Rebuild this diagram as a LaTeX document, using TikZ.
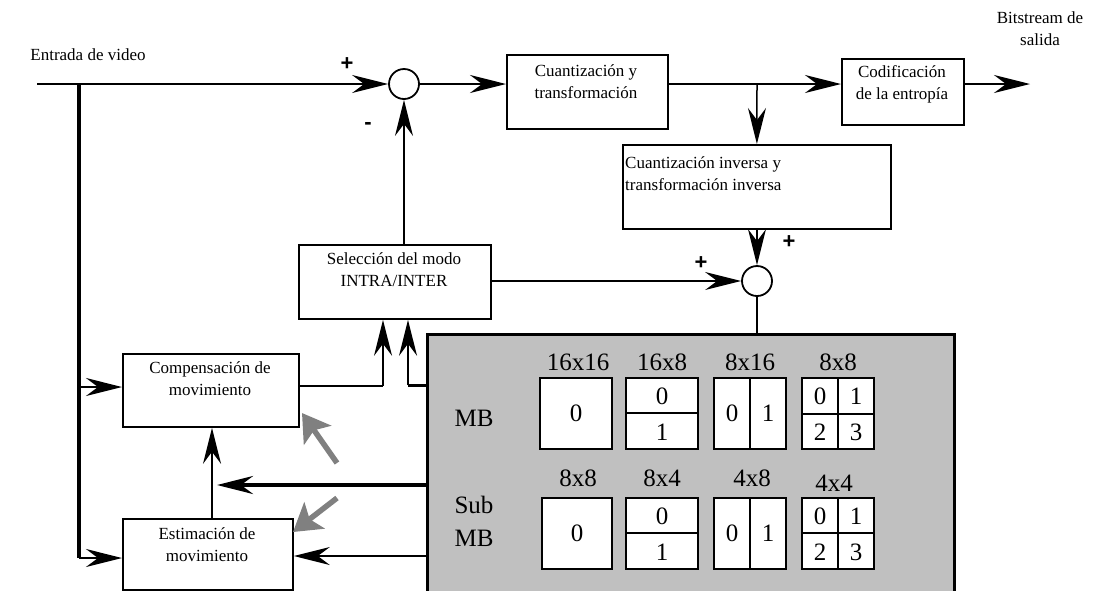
\documentclass[tikz,border=0pt]{standalone}
\usepackage{fontspec}
\setmainfont{Liberation Serif}
\newfontfamily\signfont{Liberation Sans}
\usetikzlibrary{arrows.meta,calc}
\begin{document}
\begin{tikzpicture}[x=1pt,y=-1pt,
  box/.style={draw,line width=1.8pt,anchor=north west,inner sep=0pt,fill=white},
  txt/.style={font=\fontsize{17}{22}\selectfont,inner sep=0pt,align=center},
  big/.style={font=\fontsize{25}{30}\selectfont,inner sep=0pt},
  sgn/.style={font=\signfont\bfseries\fontsize{22}{22}\selectfont,inner sep=0pt},
  sumnode/.style={draw,circle,line width=1.8pt,minimum size=30pt,inner sep=0pt,fill=white},
  ln/.style={line width=1.5pt},
  arr/.style={ln,-{Stealth[length=36pt,width=18pt,inset=12pt]}},
  part/.style={draw,fill=white,line width=1.9pt},
  garr/.style={draw=gray,line width=5.5pt,-{Stealth[length=27pt,width=33pt,inset=6pt]}}
]
\useasboundingbox (0,0) rectangle (1097,590);

% gray partition panel
\node[draw,line width=2.8pt,fill={rgb,255:red,192;green,192;blue,192},anchor=north west,minimum width=527pt,minimum height=270pt,inner sep=0pt] (panel) at (426,333) {};

% blocks
\node[box,minimum width=161pt,minimum height=74pt] (cuant) at (506,54) {};
\node[box,minimum width=122pt,minimum height=66pt] (codif) at (841,58) {};
\node[box,minimum width=268pt,minimum height=84pt] (inv) at (622,144) {};
\node[box,minimum width=192pt,minimum height=74pt] (sel) at (298,244) {};
\node[box,minimum width=176pt,minimum height=73pt] (comp) at (122,353) {};
\node[box,minimum width=170pt,minimum height=71pt] (est) at (122,518) {};

\node[sumnode] (s1) at (404,84) {};
\node[sumnode] (s2) at (757,281) {};

% texts
\node[txt] (tin) at (88,55) {Entrada de video};
\node[txt] (tcuant) at (586,82) {Cuantización y\\transformación};
\node[txt] (tcodif) at (902,84) {Codificación\\de la entropía};
\node[txt,align=left,anchor=west] (tinv) at (625,174) {Cuantización inversa y\\transformación inversa};
\node[txt] (tsel) at (394,270) {Selección del modo\\INTRA/INTER};
\node[txt] (tcomp) at (210,379) {Compensación de\\movimiento};
\node[txt] (test) at (207,545) {Estimación de\\movimiento};
\node[txt] (tout) at (1040,29) {Bitstream de\\salida};

\node[sgn] (p1) at (347,64) {+};
\node[sgn] (m1) at (368,126) {-};
\node[sgn] (p2) at (789,242) {+};
\node[sgn] (p3) at (701,263) {+};

% coordinates
\coordinate (in) at (37,84);
\coordinate (j1) at (79,84);
\coordinate (j2) at (79,387);
\coordinate (j3) at (79,558);
\coordinate (br) at (757,84);
\coordinate (out) at (1030,84);
\coordinate (c1) at (383,386);
\coordinate (g1) at (408,385);
\coordinate (g2) at (217,485);
\coordinate (e1) at (212,518);

% connectors
\draw[arr] (in) -- (s1.west);
\draw[line width=3.4pt] (j1) -- (j3);
\draw[arr] (j2) -- (comp.west |- j2);
\draw[arr] (j3) -- (est.west |- j3);
\draw[arr] (s1.east) -- (cuant.west |- s1);
\draw[arr] (cuant.east |- s1) -- (codif.west |- s1);
\draw[arr] (br) -- (inv.north);
\draw[arr] (codif.east |- s1) -- (out);
\draw[arr] (inv.south -| s2) -- (s2.north);
\draw[arr] (sel.north -| s1) -- (s1.south);
\draw[arr] (sel.east |- s2) -- (s2.west);
\draw[line width=2.6pt] (s2.south) -- (s2 |- panel.north);
\draw[ln] (comp.east |- c1) -- (c1);
\draw[arr] (c1) -- (c1 |- sel.south);
\draw[line width=3pt] (panel.west |- g1) -- (g1);
\draw[arr] (g1) -- (g1 |- sel.south);
\draw[line width=4.2pt,-{Stealth[length=36pt,width=18pt,inset=12pt]}] (panel.west |- g2) -- (g2);
\draw[arr] (e1) -- (e1 |- comp.south);
\draw[arr] (panel.west |- j3) ++(0,-2) coordinate (g3) -- (est.east |- g3);

% gray pointer arrows
\coordinate (ga1) at (337,463);
\coordinate (gb1) at (302,413);
\coordinate (ga2) at (337,498);
\coordinate (gb2) at (293,532);
\draw[garr] (ga1) -- (gb1);
\draw[garr] (ga2) -- (gb2);

% partition content
\node[big] (lmb) at (474,418) {MB};
\node[big,align=center,font=\fontsize{25}{33}\selectfont] (lsub) at (474,521) {Sub\\MB};

\node[big] (l1) at (578,362) {16x16};
\node[big] (l2) at (662,362) {16x8};
\node[big] (l3) at (750,362) {8x16};
\node[big] (l4) at (838,362) {8x8};
\node[big] (l5) at (578,478) {8x8};
\node[big] (l6) at (662,478) {8x4};
\node[big] (l7) at (752,478) {4x8};
\node[big] (l8) at (834,483) {4x4};

% row 1
\draw[part] (540,378) rectangle (612,449);
\node[big] (a0) at (576,413) {0};
\draw[part] (626,378) rectangle (698,449);
\draw[line width=1.9pt] (626,413) -- (698,413);
\node[big] (b0) at (662,396) {0};
\node[big] (b1) at (662,432) {1};
\draw[part] (714,378) rectangle (786,449);
\draw[line width=1.9pt] (750,378) -- (750,449);
\node[big] (c0) at (732,413) {0};
\node[big] (c1n) at (768,413) {1};
\draw[part] (802,378) rectangle (874,449);
\draw[line width=1.9pt] (838,378) -- (838,449);
\draw[line width=1.9pt] (802,414) -- (874,414);
\node[big] (d0) at (820,396) {0};
\node[big] (d1) at (856,396) {1};
\node[big] (d2) at (820,432) {2};
\node[big] (d3) at (856,432) {3};

% row 2
\draw[part] (542,498) rectangle (612,569);
\node[big] (e0) at (577,533) {0};
\draw[part] (626,498) rectangle (698,569);
\draw[line width=1.9pt] (626,533) -- (698,533);
\node[big] (f0) at (662,516) {0};
\node[big] (f1) at (662,552) {1};
\draw[part] (714,498) rectangle (786,569);
\draw[line width=1.9pt] (750,498) -- (750,569);
\node[big] (h0) at (732,533) {0};
\node[big] (h1) at (768,533) {1};
\draw[part] (802,498) rectangle (874,569);
\draw[line width=1.9pt] (838,498) -- (838,569);
\draw[line width=1.9pt] (802,533) -- (874,533);
\node[big] (k0) at (820,516) {0};
\node[big] (k1) at (856,516) {1};
\node[big] (k2) at (820,552) {2};
\node[big] (k3) at (856,552) {3};
\end{tikzpicture}
\end{document}
